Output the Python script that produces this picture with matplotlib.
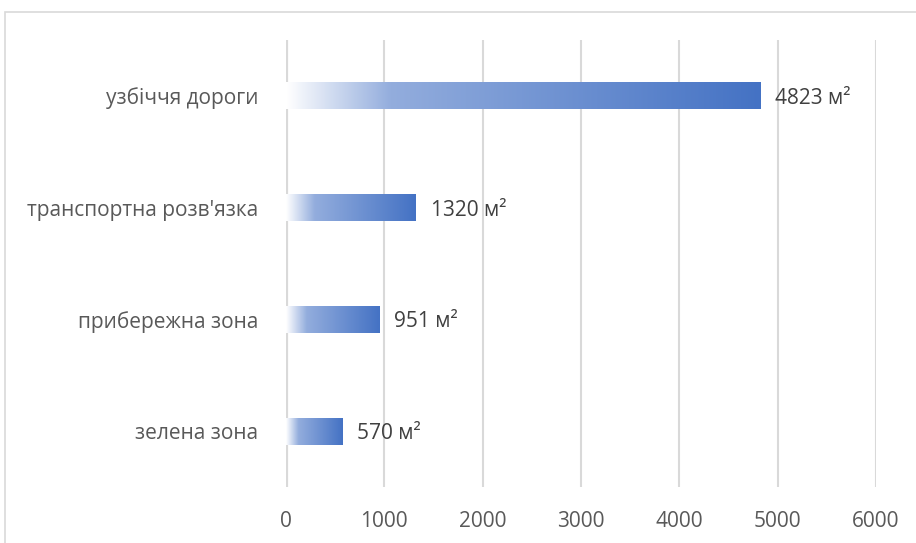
import numpy as np
import matplotlib.pyplot as plt
from matplotlib.colors import LinearSegmentedColormap
from matplotlib.patches import Rectangle

categories = ["зелена зона", "прибережна зона", "транспортна розв'язка", "узбіччя дороги"]
values = [570, 951, 1320, 4823]
unit = "м²"
xticks = [0, 1000, 2000, 3000, 4000, 5000, 6000]

plt.rcParams['font.family'] = ['Open Sans', 'DejaVu Sans']

fig = plt.figure(figsize=(9.16, 5.43), dpi=100)
ax = fig.add_axes([286 / 916, 1 - 487 / 543, 590 / 916, 447 / 543])

# chart border (cut off on right and bottom like the source)
fig.patches.append(Rectangle((5 / 916, -0.2), 1.2, 1.2 - 12 / 543,
                             transform=fig.transFigure, fill=False,
                             edgecolor="#D9D9D9", lw=1.2))

grad = LinearSegmentedColormap.from_list(
    "g", [(0.0, "#FFFFFF"), (0.22, "#93ADDD"), (1.0, "#4472C4")])
ramp = np.linspace(0, 1, 256).reshape(1, -1)

bars = ax.barh(categories, values, height=0.24, color="none", zorder=3)
for b, v in zip(bars, values):
    x0, y0, w, h = b.get_x(), b.get_y(), b.get_width(), b.get_height()
    im = ax.imshow(ramp, cmap=grad, aspect="auto", extent=(x0, x0 + w, y0, y0 + h),
                   zorder=3, interpolation="bilinear")
    im.set_clip_path(b)
    ax.text(v + 150, y0 + h / 2, f"{v} {unit}", va="center_baseline", ha="left",
            fontsize=15, color="#404040", zorder=4)

ax.set_xlim(0, 6000)
ax.set_ylim(-0.5, 3.5)
ax.set_xticks(xticks)
ax.grid(axis="x", color="#D9D9D9", lw=1.5, zorder=0)
ax.axvline(0, color="#D9D9D9", lw=3, zorder=2)
for s in ax.spines.values():
    s.set_visible(False)
ax.tick_params(axis="both", length=0, labelsize=15, labelcolor="#595959")
ax.tick_params(axis="x", pad=17)
ax.tick_params(axis="y", pad=20)

fig.savefig("out.png", dpi=100)
